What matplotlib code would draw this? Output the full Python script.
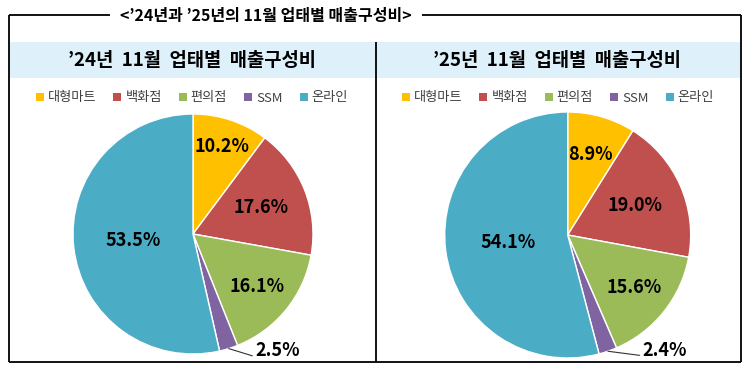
import math

import matplotlib

matplotlib.use("Agg")
import matplotlib.pyplot as plt
from matplotlib.patches import Rectangle

plt.rcParams["font.family"] = ["Noto Sans CJK KR", "DejaVu Sans"]

# data
categories = ["대형마트", "백화점", "편의점", "SSM", "온라인"]
share_2024 = [10.2, 17.6, 16.1, 2.5, 53.5]
share_2025 = [8.9, 19.0, 15.6, 2.4, 54.1]

main_title = "<’24년과 ’25년의 11월 업태별 매출구성비>"
panel_titles = ["’24년  11월  업태별  매출구성비", "’25년  11월  업태별  매출구성비"]

colors = ["#FFC000", "#C0504D", "#9BBB59", "#8064A2", "#4BACC6"]

W, H = 752, 371
fig = plt.figure(figsize=(W / 100, H / 100), dpi=100)

# background / frame drawn in pixel coordinates
bg = fig.add_axes([0, 0, 1, 1])
bg.set_xlim(0, W)
bg.set_ylim(H, 0)
bg.axis("off")

bg.add_patch(Rectangle((10, 42), 731, 36, facecolor="#DEF1FB", edgecolor="none"))
frame_kw = dict(color="black", lw=1.3, solid_capstyle="butt")
bg.plot([9, 110], [15, 15], **frame_kw)
bg.plot([422, 741], [15, 15], **frame_kw)
bg.plot([9, 9], [15, 362], **frame_kw)
bg.plot([741, 741], [15, 362], **frame_kw)
bg.plot([9, 741], [362, 362], **frame_kw)
bg.plot([375.5, 375.5], [42, 362], **frame_kw)

bg.text(266, 16, main_title, ha="center", va="center", fontsize=11.5,
        fontweight="bold", color="black")

# per-panel layout: pie centre/radius (px), label distances, SSM label offset
panels = [
    dict(values=share_2024, title=panel_titles[0], title_x=192, cx=193, cy=234, r=120,
         dist=[0.77, 0.61, 0.69, None, 0.5], ssm_off=(0.22, -0.02), legend_x=192),
    dict(values=share_2025, title=panel_titles[1], title_x=557, cx=567.7, cy=235, r=123,
         dist=[0.68, 0.6, 0.69, None, 0.49], ssm_off=(0.28, 0.01), legend_x=558),
]

for p in panels:
    bg.text(p["title_x"], 60, p["title"], ha="center", va="center", fontsize=13.5,
            fontweight="bold", color="black")

    r = p["r"]
    ax = fig.add_axes([(p["cx"] - r) / W, (H - p["cy"] - r) / H, 2 * r / W, 2 * r / H])
    wedges, _ = ax.pie(
        p["values"],
        colors=colors,
        startangle=90,
        counterclock=False,
        wedgeprops=dict(edgecolor="white", linewidth=1),
    )
    ax.set_xlim(-1, 1)
    ax.set_ylim(-1, 1)

    for w, v, d in zip(wedges, p["values"], p["dist"]):
        ang = math.radians((w.theta1 + w.theta2) / 2)
        if d is None:
            x0, y0 = math.cos(ang), math.sin(ang)
            ax.annotate(
                f"{v:.1f}%",
                xy=(x0, y0),
                xytext=(x0 + p["ssm_off"][0], y0 + p["ssm_off"][1]),
                ha="left", va="center", fontsize=13, fontweight="bold",
                arrowprops=dict(arrowstyle="-", color="#333333", lw=0.8,
                                relpos=(0, 0.2), shrinkA=0, shrinkB=0),
                annotation_clip=False,
            )
        else:
            ax.text(d * math.cos(ang), d * math.sin(ang), f"{v:.1f}%",
                    ha="center", va="center", fontsize=13, fontweight="bold")

    leg = ax.legend(
        wedges, categories,
        loc="center", bbox_to_anchor=(p["legend_x"] / W, 1 - 98 / H),
        bbox_transform=fig.transFigure,
        ncol=5, frameon=False, fontsize=9.5,
        handlelength=0.6, handleheight=0.6, handletextpad=0.3,
        columnspacing=1.3, labelcolor="#404040",
    )
    for h in leg.legend_handles:
        h.set_edgecolor("none")

fig.savefig("out.png", dpi=100)
plt.close(fig)
